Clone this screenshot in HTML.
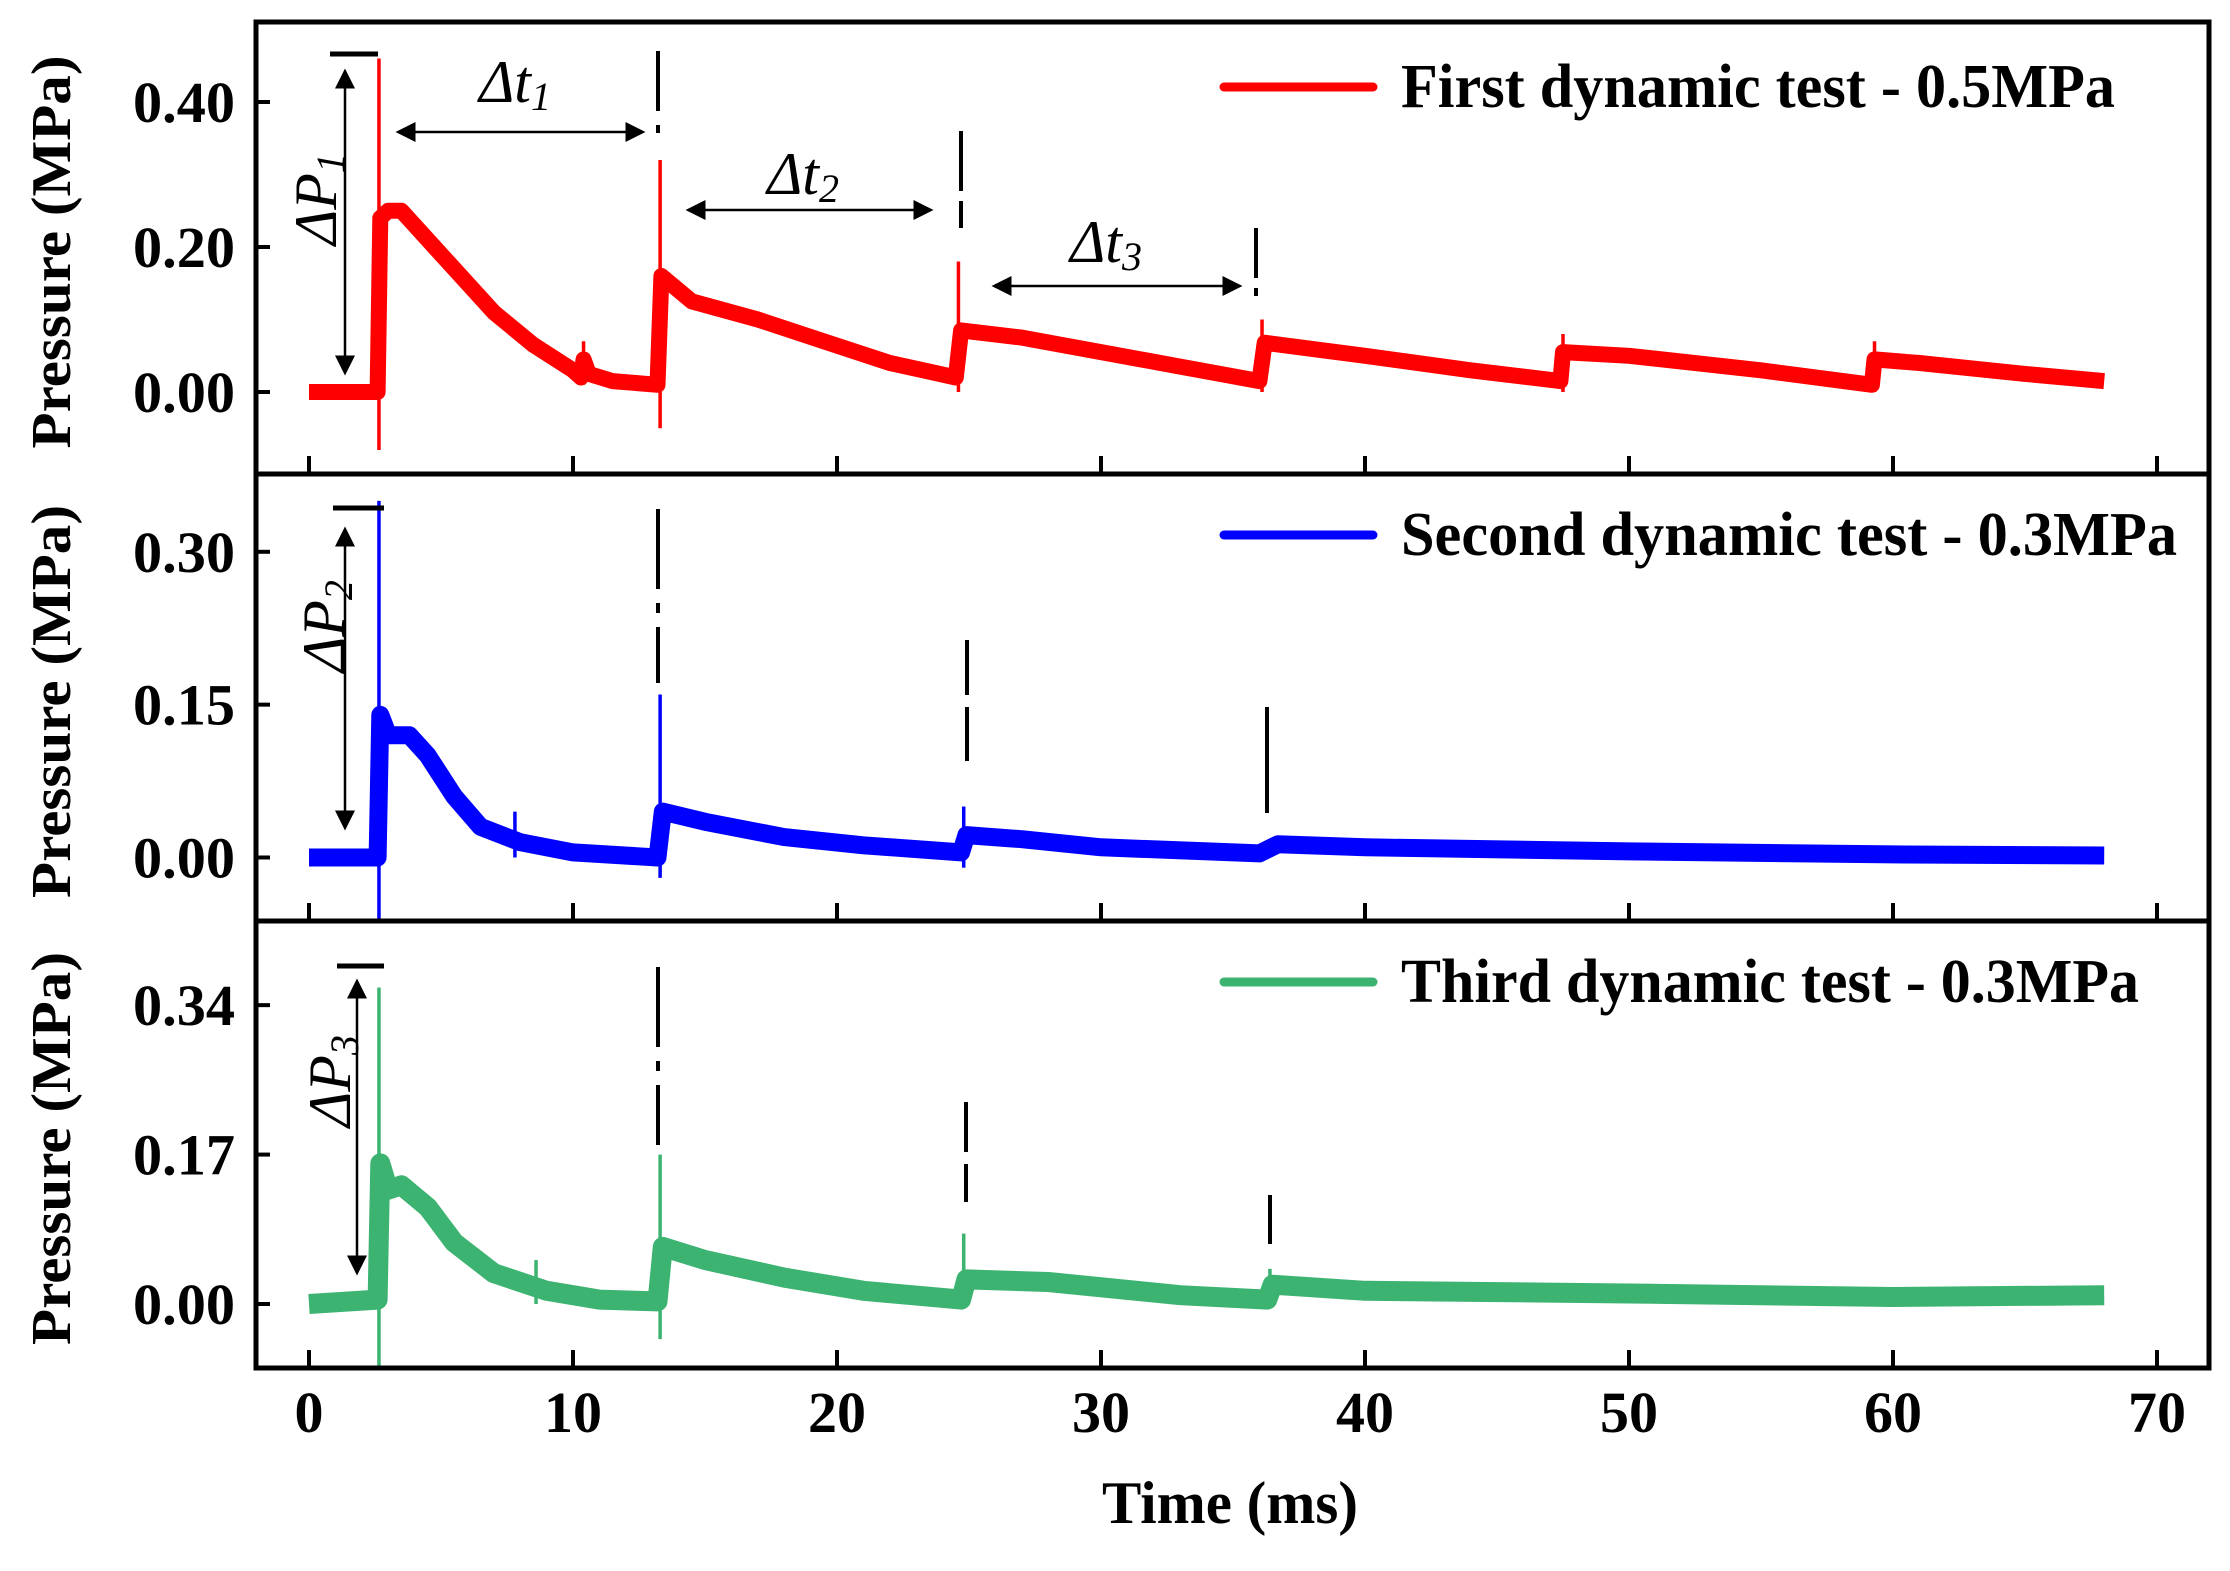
<!DOCTYPE html>
<html><head><meta charset="utf-8"><style>
html,body{margin:0;padding:0;background:#fff;}
svg{display:block;font-family:"Liberation Serif",serif;}
</style></head><body>
<svg id="chart" width="2230" height="1571" viewBox="0 0 2230 1571" xmlns="http://www.w3.org/2000/svg"></svg>
<script>
// ---- data ----
const xTicks = [0,10,20,30,40,50,60,70];
const redT = [0,2.6,2.7,3,3.5,4,5.5,7,8.5,10,10.3,10.4,10.6,11.5,13.2,13.35,14.5,17,19.5,22,24.5,24.7,27,30,33,36,36.2,40,44,47.4,47.5,50,55,59.2,59.3,61,65,68];
const redV = [0,0,0.24,0.25,0.25,0.23,0.17,0.11,0.065,0.03,0.02,0.045,0.025,0.015,0.01,0.16,0.125,0.10,0.07,0.04,0.02,0.085,0.075,0.055,0.035,0.015,0.068,0.05,0.03,0.015,0.055,0.05,0.03,0.01,0.045,0.04,0.025,0.015];
const redSpikeT = [2.65,10.4,13.3,24.6,36.1,47.5,59.3];
const redSpikeTop = [0.46,0.07,0.32,0.18,0.10,0.08,0.07];
const redSpikeBot = [-0.08,0.01,-0.05,0.0,0.0,0.0,0.0];
const blueT = [0,2.6,2.7,3,3.8,4.5,5.5,6.5,8,10,13.2,13.4,15,18,21,24.7,24.9,27,30,36,36.7,40,50,60,68];
const blueV = [0,0,0.14,0.12,0.12,0.10,0.06,0.03,0.015,0.005,0.0,0.045,0.035,0.02,0.012,0.005,0.022,0.018,0.01,0.004,0.013,0.01,0.006,0.003,0.002];
const blueSpikeT = [2.65,7.8,13.3,24.8];
const blueSpikeTop = [0.35,0.045,0.16,0.05];
const blueSpikeBot = [-0.06,0.0,-0.02,-0.01];
const greenT = [0,2.6,2.7,3,3.5,4.5,5.5,7,9,11,13.2,13.4,15,18,21,24.7,24.9,28,33,36.3,36.5,40,50,60,68];
const greenV = [0,0.005,0.16,0.13,0.135,0.11,0.07,0.035,0.015,0.005,0.003,0.065,0.05,0.03,0.015,0.005,0.028,0.025,0.01,0.005,0.022,0.015,0.012,0.008,0.01];
const greenSpikeT = [2.65,8.6,13.3,24.8,36.4];
const greenSpikeTop = [0.36,0.05,0.17,0.08,0.04];
const greenSpikeBot = [-0.14,0.0,-0.04,0.0,0.0];
const p1Ticks = [0,0.2,0.4], p1Labels = ["0.00","0.20","0.40"];
const p2Ticks = [0,0.15,0.3], p2Labels = ["0.00","0.15","0.30"];
const p3Ticks = [0,0.17,0.34], p3Labels = ["0.00","0.17","0.34"];

const NS = "http://www.w3.org/2000/svg";
const svg = document.getElementById("chart");
function mk(tag, attrs, parent){
  const e = document.createElementNS(NS, tag);
  for (const k in attrs) e.setAttribute(k, attrs[k]);
  (parent||svg).appendChild(e);
  return e;
}
const L=256, R=2209;
const xs = t => 309 + 26.4*t;
const defs = mk("defs",{});
const panels = [
  {top:22,bot:474,zero:392,k:725,color:"#ff0000",T:redT,V:redV,sT:redSpikeT,sTop:redSpikeTop,sBot:redSpikeBot,ticks:p1Ticks,labels:p1Labels,sw:16,name:"first-test",leg:"First dynamic test - 0.5MPa",legY:87,legW:714},
  {top:474,bot:921,zero:857.5,k:1019,color:"#0000ff",T:blueT,V:blueV,sT:blueSpikeT,sTop:blueSpikeTop,sBot:blueSpikeBot,ticks:p2Ticks,labels:p2Labels,sw:18,name:"second-test",leg:"Second dynamic test - 0.3MPa",legY:535,legW:776},
  {top:921,bot:1368,zero:1304,k:879,color:"#3cb371",T:greenT,V:greenV,sT:greenSpikeT,sTop:greenSpikeTop,sBot:greenSpikeBot,ticks:p3Ticks,labels:p3Labels,sw:20,name:"third-test",leg:"Third dynamic test - 0.3MPa",legY:982,legW:738}
];
panels.forEach((p,i)=>{
  const ys = v => p.zero - p.k*v;
  const cp = mk("clipPath",{id:"clip"+i},defs);
  mk("rect",{x:L,y:p.top,width:R-L,height:p.bot-p.top},cp);
  const g = mk("g",{});
  
  
  const sg = mk("g",{"clip-path":"url(#clip"+i+")"},g);
  let d = "";
  p.T.forEach((t,j)=>{ d += (j?"L":"M")+xs(t).toFixed(1)+","+ys(p.V[j]).toFixed(1); });
  const path = mk("path",{d:d,fill:"none",stroke:p.color,"stroke-width":p.sw,"stroke-linejoin":"round"},sg);
  
  
  p.sT.forEach((t,j)=>{
    const s = mk("line",{x1:xs(t),x2:xs(t),y1:ys(p.sTop[j]),y2:ys(p.sBot[j]),stroke:p.color,"stroke-width":3.5},sg);
    
    
  });
  p.ticks.forEach((v,j)=>{
    const tk = mk("line",{x1:L,x2:L+14,y1:ys(v),y2:ys(v),stroke:"#000","stroke-width":4},g);
    
    
    const tl = mk("text",{x:235,y:ys(v)+20,"text-anchor":"end","font-size":58,"font-weight":"bold",textLength:102,lengthAdjust:"spacingAndGlyphs"},g);
    tl.textContent = p.labels[j];
    
    
  });
  xTicks.forEach(t=>{
    const tk = mk("line",{x1:xs(t),x2:xs(t),y1:p.bot,y2:p.bot-18,stroke:"#000","stroke-width":4},g);
    
    
  });
  const yt = mk("text",{x:0,y:0,"text-anchor":"middle","font-size":56,"font-weight":"bold",textLength:393,lengthAdjust:"spacingAndGlyphs",transform:`translate(70,${(p.top+p.bot)/2+4}) rotate(-90)`},g);
  yt.textContent = "Pressure (MPa)";
  
  
  const ll = mk("line",{x1:1224,x2:1373,y1:p.legY,y2:p.legY,stroke:p.color,"stroke-width":9,"stroke-linecap":"round"},g);
  
  
  const lt = mk("text",{x:1401,y:p.legY+20,"font-size":62,"font-weight":"bold",textLength:p.legW,lengthAdjust:"spacingAndGlyphs"},g);
  lt.textContent = p.leg;
  
  
});
const fr = mk("rect",{x:L,y:22,width:R-L,height:1346,fill:"none",stroke:"#000","stroke-width":5});


[474,921].forEach(y=>{
  const s = mk("line",{x1:L,x2:R,y1:y,y2:y,stroke:"#000","stroke-width":5});
  
  
});
xTicks.forEach(t=>{
  const tl = mk("text",{x:xs(t),y:1432,"text-anchor":"middle","font-size":58,"font-weight":"bold"});
  tl.textContent = String(t);
  
  
});
const xt = mk("text",{x:1230,y:1523,"text-anchor":"middle","font-size":60,"font-weight":"bold",textLength:256,lengthAdjust:"spacingAndGlyphs"});
xt.textContent = "Time (ms)";



const mkr = mk("marker",{id:"ah",markerWidth:8,markerHeight:8,refX:7,refY:4,orient:"auto-start-reverse",markerUnits:"strokeWidth"},defs);
mk("path",{d:"M0,0 L8,4 L0,8 Z",fill:"#000"},mkr);
function arrow(x1,y1,x2,y2,name){
  const a = mk("line",{x1,y1,x2,y2,stroke:"#000","stroke-width":2.5,"marker-start":"url(#ah)","marker-end":"url(#ah)"});
  
  
}
function bar(x1,x2,y,name){
  const b = mk("line",{x1,x2,y1:y,y2:y,stroke:"#000","stroke-width":5});
  
  
}
function dash(x,y1,y2,da,name){
  const d = mk("line",{x1:x,x2:x,y1,y2,stroke:"#000","stroke-width":4,"stroke-dasharray":da});
  
  
}
function label(txt,sub,x,y,rot,name){
  const t = mk("text",{x:0,y:0,"text-anchor":"middle","font-size":60,"font-style":"italic",transform:`translate(${x},${y})`+(rot?" rotate(-90)":"")});
  t.textContent = txt;
  const s = mk("tspan",{"font-size":40,dy:8},t);
  s.textContent = sub;
  
  
}
bar(330,378,54,'delta-p1-bar'); arrow(345,71,345,373,'delta-p1-arrow'); label("ΔP","1",336,199,true,'delta-p1-label');
arrow(398,132,643,132,'delta-t1-arrow'); label("Δt","1",515,102,false,'delta-t1-label'); dash(658,51,142,"60,14,8,14",'dash-line-1');
arrow(688,210,931,210,'delta-t2-arrow'); label("Δt","2",803,194,false,'delta-t2-label'); dash(961,131,228,"60,10",'dash-line-2');
arrow(994,286,1240,286,'delta-t3-arrow'); label("Δt","3",1106,262,false,'delta-t3-label'); dash(1256,228,306,"50,10,8,10",'dash-line-3');
bar(333,384,508,'delta-p2-bar'); arrow(345,529,345,828,'delta-p2-arrow'); label("ΔP","2",344,626,true,'delta-p2-label');
dash(658,509,683,"80,14,10,14",'dash-line-4'); dash(967,640,761,"55,12",'dash-line-5'); dash(1267,707,813,"106,0",'dash-line-6');
bar(337,384,966,'delta-p3-bar'); arrow(357,981,357,1273,'delta-p3-arrow'); label("ΔP","3",350,1081,true,'delta-p3-label');
dash(658,967,1145,"80,14,10,14",'dash-line-7'); dash(966,1102,1202,"50,12",'dash-line-8'); dash(1270,1195,1244,"50,0",'dash-line-9');
</script>
</body></html>
